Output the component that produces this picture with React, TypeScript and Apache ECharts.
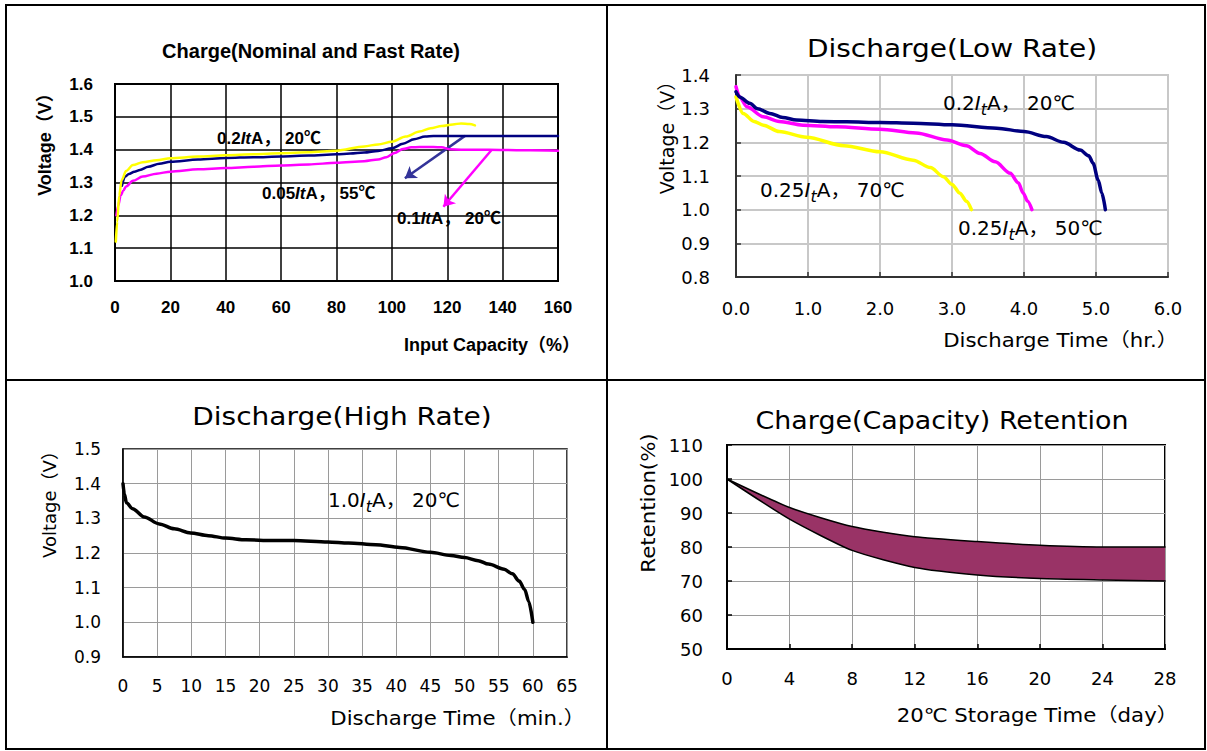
import React, { useEffect, useRef } from "react";
import * as echarts from "echarts";

// ---------- Panel 1: Charge (Nominal and Fast Rate) ----------
const chargeXTicks = [0, 160, 20];
const chargeYTicks = [1.0, 1.6, 0.1];
const chargeYellowX = [0.3, 0.8, 1.5, 2.4, 4, 6.5, 10, 15, 20, 30, 40, 50, 60, 70, 80, 90, 95, 100, 105, 110, 114, 118, 122, 125, 128, 130];
const chargeYellowY = [1.12, 1.18, 1.26, 1.307, 1.335, 1.353, 1.362, 1.368, 1.374, 1.379, 1.383, 1.386, 1.389, 1.392, 1.397, 1.41, 1.416, 1.424, 1.44, 1.455, 1.465, 1.472, 1.477, 1.48, 1.478, 1.474];
const chargeNavyX = [2.5, 3.6, 5, 7, 9, 12, 16, 20, 30, 40, 50, 60, 70, 80, 85, 90, 95, 100, 104, 108, 112, 115, 120, 130, 140, 150, 160];
const chargeNavyY = [1.29, 1.318, 1.326, 1.333, 1.338, 1.348, 1.357, 1.363, 1.37, 1.375, 1.377, 1.379, 1.382, 1.386, 1.388, 1.391, 1.396, 1.404, 1.418, 1.432, 1.44, 1.442, 1.442, 1.442, 1.442, 1.442, 1.442];
const chargeMagentaX = [0.5, 1.2, 2, 3, 4, 6.5, 10, 15, 20, 30, 40, 50, 60, 70, 80, 90, 95, 98, 101, 104, 107, 110, 115, 118, 121, 125, 130, 140, 150, 160];
const chargeMagentaY = [1.2, 1.23, 1.26, 1.275, 1.288, 1.305, 1.318, 1.327, 1.333, 1.34, 1.344, 1.348, 1.352, 1.355, 1.36, 1.365, 1.37, 1.377, 1.39, 1.402, 1.407, 1.408, 1.408, 1.407, 1.401, 1.4, 1.4, 1.399, 1.398, 1.397];
const arrowNavy = [[126.4, 1.442], [104.7, 1.313]];
const arrowMagenta = [[136, 1.399], [118.6, 1.226]];

// ---------- Panel 2: Discharge (Low Rate) ----------
const lowXTicks = [0, 6, 1];
const lowYTicks = [0.8, 1.4, 0.1];
const lowNavyX = [0, 0.05, 0.19, 0.3, 0.47, 0.65, 0.84, 1.2, 1.54, 2.0, 2.46, 3.0, 3.62, 4.0, 4.31, 4.55, 4.78, 4.9, 4.96, 5.03, 5.08, 5.13];
const lowNavyY = [1.35, 1.335, 1.316, 1.3, 1.286, 1.274, 1.266, 1.262, 1.261, 1.259, 1.257, 1.252, 1.242, 1.232, 1.217, 1.2, 1.177, 1.16, 1.138, 1.088, 1.05, 1.0];
const lowMagentaX = [0, 0.05, 0.15, 0.38, 0.6, 0.93, 1.4, 2.0, 2.5, 2.93, 3.2, 3.39, 3.6, 3.81, 3.92, 3.99, 4.05, 4.11];
const lowMagentaY = [1.365, 1.335, 1.306, 1.276, 1.262, 1.251, 1.246, 1.239, 1.228, 1.207, 1.19, 1.167, 1.142, 1.108, 1.08, 1.049, 1.025, 1.0];
const lowYellowX = [0, 0.1, 0.25, 0.38, 0.6, 0.98, 1.5, 2.0, 2.46, 2.7, 2.88, 3.0, 3.11, 3.2, 3.27];
const lowYellowY = [1.335, 1.286, 1.262, 1.251, 1.232, 1.215, 1.19, 1.172, 1.147, 1.125, 1.098, 1.075, 1.049, 1.025, 1.0];

// ---------- Panel 3: Discharge (High Rate) ----------
const highXTicks = [0, 65, 5];
const highYTicks = [0.9, 1.5, 0.1];
const highX = [0, 0.2, 0.5, 1.4, 3.1, 5.3, 7.5, 9.9, 12.5, 15, 18, 21.8, 25, 30, 33, 37, 40.5, 45, 48, 50, 52, 53.5, 55.8, 57, 58, 58.8, 59.4, 60];
const highY = [1.4, 1.37, 1.345, 1.328, 1.304, 1.284, 1.27, 1.258, 1.25, 1.243, 1.238, 1.236, 1.236, 1.232, 1.229, 1.224, 1.216, 1.202, 1.193, 1.187, 1.178, 1.168, 1.153, 1.14, 1.119, 1.095, 1.06, 1.0];

// ---------- Panel 4: Charge (Capacity) Retention ----------
const retYTicks = [50, 110, 10];
const retDays = ["0", "4", "8", "12", "16", "20", "24", "28"];
const retUpper = [100, 91.6, 86, 83, 81.6, 80.5, 80, 80];
const retLower = [100, 88.2, 79, 74, 71.8, 70.7, 70.3, 70];

const F1 = "'Liberation Sans', Arial, 'Noto Sans CJK JP', sans-serif";
const F2 = "'DejaVu Sans', 'Noto Sans CJK JP', sans-serif";

function pairs(xs: number[], ys: number[]) {
  return xs.map((x, i) => [x, ys[i]]);
}

function makeAxis(gridIndex: number, t: number[], digits: number, c: any) {
  return {
    type: "value",
    gridIndex,
    min: t[0],
    max: t[1],
    interval: t[2],
    axisLabel: {
      formatter: (v: number) => v.toFixed(digits),
      fontFamily: c.font,
      fontSize: c.size,
      fontWeight: c.weight,
      color: "#000",
      margin: c.margin,
    },
    axisLine: { show: true, onZero: false, lineStyle: { color: c.axisColor, width: c.axisWidth } },
    axisTick: { show: c.ticks, inside: true, length: 5, lineStyle: { color: c.axisColor, width: 1.5 } },
    splitLine: { show: true, lineStyle: { color: c.gridColor, width: c.gridWidth } },
  };
}

function lineSeries(idx: number, data: any[], color: string, width: number, extra: any = {}) {
  return {
    type: "line",
    xAxisIndex: idx,
    yAxisIndex: idx,
    data,
    showSymbol: false,
    symbol: "none",
    smooth: 0.3,
    smoothMonotone: "x",
    lineStyle: { color, width, cap: "round", join: "round" },
    silent: true,
    ...extra,
  };
}

function richLabel(x: number, y: number, pre: string, post: string, sub: boolean, font: string, size: number, weight: string) {
  const rich: any = {
    n: { fontFamily: font, fontSize: size, fontWeight: weight, fill: "#000", lineHeight: size + 8, verticalAlign: "middle" },
    i: { fontFamily: font, fontSize: size, fontWeight: weight, fontStyle: "italic", fill: "#000", lineHeight: size + 8, verticalAlign: "middle" },
    s: { fontFamily: font, fontSize: size - 4, fontWeight: weight, fontStyle: "italic", fill: "#000", lineHeight: size - 3, verticalAlign: "bottom" },
  };
  const text = sub ? `{n|${pre}}{i|I}{s|t}{n|${post}}` : `{n|${pre}}{i|It}{n|${post}}`;
  return {
    type: "text",
    x,
    y,
    z: 50,
    silent: true,
    style: { text, rich, align: "left", verticalAlign: "middle" },
  };
}

function plainText(x: number, y: number, text: string, font: string, size: number, weight: string, align: string, rotate = false, sx = 1) {
  return {
    type: "text",
    x,
    y,
    z: 50,
    rotation: rotate ? Math.PI / 2 : 0,
    scaleX: sx,
    silent: true,
    style: {
      text,
      fontFamily: font,
      fontSize: size,
      fontWeight: weight,
      fill: "#000",
      align,
      verticalAlign: "middle",
    },
  };
}

export default function App() {
  const ref = useRef<HTMLDivElement>(null);
  useEffect(() => {
    document.body.style.margin = "0";
    const chart = echarts.init(ref.current!, null, { renderer: "svg" });

    const c1 = { font: F1, size: 17, weight: "bold", margin: 18, axisColor: "#000", axisWidth: 2, ticks: false, gridColor: "#000", gridWidth: 1.5 };
    const c2 = { font: F2, size: 18, weight: "normal", margin: 22, axisColor: "#333", axisWidth: 2, ticks: true, gridColor: "#c8c8c8", gridWidth: 2 };
    const c2y = { ...c2, margin: 26 };
    const c3 = { font: F2, size: 17, weight: "normal", margin: 20, axisColor: "#000", axisWidth: 1.5, ticks: false, gridColor: "#9a9a9a", gridWidth: 1 };
    const c4 = { font: F2, size: 18, weight: "normal", margin: 20, axisColor: "#000", axisWidth: 2, ticks: true, gridColor: "#9a9a9a", gridWidth: 1 };
    const c4y = { ...c4, margin: 24 };

    const retXAxis = {
      type: "category",
      gridIndex: 3,
      data: retDays,
      boundaryGap: false,
      axisLabel: { interval: 0, fontFamily: F2, fontSize: 18, color: "#000", margin: 20 },
      axisLine: { show: true, lineStyle: { color: "#000", width: 2 } },
      axisTick: { show: true, inside: true, length: 5, interval: 0, lineStyle: { color: "#000", width: 1.5 } },
      splitLine: { show: true, interval: 0, lineStyle: { color: "#9a9a9a", width: 1 } },
    };

    const ST = 1.12;

    const option: any = {
      animation: false,
      backgroundColor: "#fff",
      grid: [
        { left: 115, top: 84, width: 443, height: 197, show: true, borderColor: "#000", borderWidth: 2 },
        { left: 736, top: 75, width: 432, height: 202, show: true, borderColor: "#c8c8c8", borderWidth: 2 },
        { left: 123, top: 449, width: 444, height: 208, show: true, borderColor: "#000", borderWidth: 1.5 },
        { left: 727, top: 445, width: 438, height: 204, show: true, borderColor: "#000", borderWidth: 2 },
      ],
      xAxis: [
        makeAxis(0, chargeXTicks, 0, c1),
        makeAxis(1, lowXTicks, 1, c2),
        makeAxis(2, highXTicks, 0, c3),
        retXAxis,
      ],
      yAxis: [
        makeAxis(0, chargeYTicks, 1, { ...c1, margin: 22 }),
        makeAxis(1, lowYTicks, 1, c2y),
        makeAxis(2, highYTicks, 1, { ...c3, margin: 22 }),
        makeAxis(3, retYTicks, 0, c4y),
      ],
      series: [
        lineSeries(0, pairs(chargeMagentaX, chargeMagentaY), "#ff00ff", 2.5),
        lineSeries(0, pairs(chargeNavyX, chargeNavyY), "#000080", 2.5),
        lineSeries(0, pairs(chargeYellowX, chargeYellowY), "#ffff00", 2.5),
        {
          type: "lines",
          coordinateSystem: "cartesian2d",
          xAxisIndex: 0,
          yAxisIndex: 0,
          symbol: ["none", "arrow"],
          symbolSize: 11,
          silent: true,
          lineStyle: { color: "#333399", width: 2.5, opacity: 1 },
          data: [{ coords: arrowNavy }],
        },
        {
          type: "lines",
          coordinateSystem: "cartesian2d",
          xAxisIndex: 0,
          yAxisIndex: 0,
          symbol: ["none", "arrow"],
          symbolSize: 11,
          silent: true,
          lineStyle: { color: "#ff00ff", width: 2.5, opacity: 1 },
          data: [{ coords: arrowMagenta }],
        },
        lineSeries(1, pairs(lowYellowX, lowYellowY), "#ffff00", 3.5),
        lineSeries(1, pairs(lowMagentaX, lowMagentaY), "#ff00ff", 3.5),
        lineSeries(1, pairs(lowNavyX, lowNavyY), "#000080", 3.5),
        lineSeries(2, pairs(highX, highY), "#000", 3.5),
        lineSeries(3, retLower, "#000", 1.5, { stack: "ret", smooth: 0.2, smoothMonotone: undefined }),
        lineSeries(3, retUpper.map((u, i) => u - retLower[i]), "#000", 1.5, {
          stack: "ret",
          smooth: 0.2,
          smoothMonotone: undefined,
          areaStyle: { color: "#993366", opacity: 1 },
        }),
      ],
      graphic: [
        // frame
        { type: "rect", silent: true, z: 50, shape: { x: 6, y: 5, width: 1199, height: 744 }, style: { fill: "none", stroke: "#000", lineWidth: 2 } },
        { type: "line", silent: true, z: 50, shape: { x1: 607, y1: 5, x2: 607, y2: 749 }, style: { stroke: "#000", lineWidth: 2 } },
        { type: "line", silent: true, z: 50, shape: { x1: 6, y1: 380, x2: 1205, y2: 380 }, style: { stroke: "#000", lineWidth: 2 } },
        // titles
        plainText(311, 51, "Charge(Nominal and Fast Rate)", F1, 20, "bold", "center"),
        plainText(952, 48, "Discharge(Low Rate)", F2, 25, "normal", "center", false, ST),
        plainText(342, 416, "Discharge(High Rate)", F2, 25, "normal", "center", false, ST),
        plainText(942, 421, "Charge(Capacity) Retention", F2, 24, "normal", "center", false, ST),
        // axis names
        plainText(580, 345, "Input Capacity（%）", F1, 18, "bold", "right"),
        plainText(45, 140, "Voltage（V）", F1, 18, "bold", "center", true),
        plainText(1178, 340, "Discharge Time（hr.）", F2, 19, "normal", "right", false, ST),
        plainText(667, 133, "Voltage（V）", F2, 19, "normal", "center", true),
        plainText(585, 718, "Discharge Time（min.）", F2, 19, "normal", "right", false, ST),
        plainText(49, 500, "Voltage（V）", F2, 18, "normal", "center", true),
        plainText(1178, 715, "20℃ Storage Time（day）", F2, 19, "normal", "right", false, ST),
        plainText(648, 503, "Retention(%)", F2, 19, "normal", "center", true, ST),
        // curve labels
        richLabel(217, 138, "0.2", "A， 20℃", false, F1, 17, "bold"),
        richLabel(262, 193, "0.05", "A， 55℃", false, F1, 17, "bold"),
        richLabel(397, 218, "0.1", "A， 20℃", false, F1, 17, "bold"),
        richLabel(943, 103, "0.2", "A， 20℃", true, F2, 20, "normal"),
        richLabel(760, 190, "0.25", "A， 70℃", true, F2, 20, "normal"),
        richLabel(958, 228, "0.25", "A， 50℃", true, F2, 20, "normal"),
        richLabel(328, 500, "1.0", "A， 20℃", true, F2, 20, "normal"),
      ],
    };
    chart.setOption(option);
    return () => chart.dispose();
  }, []);
  return <div ref={ref} style={{ width: 1207, height: 751, background: "#fff" }} />;
}
